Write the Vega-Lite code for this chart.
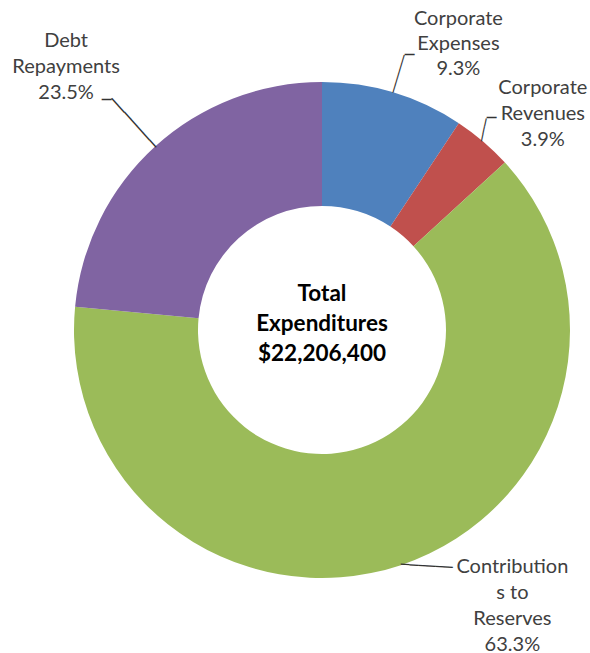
{
  "$schema": "https://vega.github.io/schema/vega-lite/v6.json",
  "width": 536,
  "height": 646,
  "autosize": "none",
  "padding": {"left": 54, "top": 7, "right": 0, "bottom": 0},
  "background": "white",
  "config": {"view": {"stroke": null}},
  "data": {
    "values": [
      {"category": "Corporate Expenses", "label": "Corporate\nExpenses\n9.3%", "value": 9.3, "ord": 1},
      {"category": "Corporate Revenues", "label": "Corporate\nRevenues\n3.9%", "value": 3.9, "ord": 2},
      {"category": "Contributions to Reserves", "label": "Contribution\ns to\nReserves\n63.3%", "value": 63.3, "ord": 3},
      {"category": "Debt Repayments", "label": "Debt\nRepayments\n23.5%", "value": 23.5, "ord": 4}
    ]
  },
  "encoding": {
    "theta": {"field": "value", "type": "quantitative", "stack": true},
    "order": {"field": "ord", "type": "quantitative"},
    "detail": {"field": "category", "type": "nominal"}
  },
  "layer": [
    {
      "mark": {"type": "arc", "innerRadius": 124, "outerRadius": 248},
      "encoding": {
        "color": {
          "field": "category",
          "type": "nominal",
          "scale": {
            "domain": ["Corporate Expenses", "Corporate Revenues", "Contributions to Reserves", "Debt Repayments"],
            "range": ["#4F81BD", "#C0504D", "#9BBB59", "#8064A2"]
          },
          "legend": null
        }
      }
    },
    {
      "mark": {"type": "text", "radius": 300, "dx": 50, "dy": -24, "font": "Lato", "fontSize": 20, "lineBreak": "\n", "lineHeight": 25, "align": "center", "baseline": "middle", "color": "#404040"},
      "encoding": {"text": {"condition": {"test": "datum.category === 'Corporate Expenses'", "field": "label"}, "value": ""}}
    },
    {
      "mark": {"type": "text", "radius": 300, "dx": 26, "dy": -14, "font": "Lato", "fontSize": 20, "lineBreak": "\n", "lineHeight": 26, "align": "center", "baseline": "middle", "color": "#404040"},
      "encoding": {"text": {"condition": {"test": "datum.category === 'Corporate Revenues'", "field": "label"}, "value": ""}}
    },
    {
      "mark": {"type": "text", "radius": 300, "dx": 95, "dy": -47, "font": "Lato", "fontSize": 20, "lineBreak": "\n", "lineHeight": 26, "align": "center", "baseline": "middle", "color": "#404040"},
      "encoding": {"text": {"condition": {"test": "datum.category === 'Contributions to Reserves'", "field": "label"}, "value": ""}}
    },
    {
      "mark": {"type": "text", "radius": 300, "dx": -54, "dy": -67, "font": "Lato", "fontSize": 20, "lineBreak": "\n", "lineHeight": 26, "align": "center", "baseline": "middle", "color": "#404040"},
      "encoding": {"text": {"condition": {"test": "datum.category === 'Debt Repayments'", "field": "label"}, "value": ""}}
    },
    {
      "mark": {"type": "text", "radius": 267.5, "angle": -73.3, "font": "DejaVu Sans Mono", "fontSize": 13, "align": "center", "baseline": "middle", "color": "#333333"},
      "encoding": {"text": {"condition": {"test": "datum.category === 'Corporate Expenses'", "value": "─────"}, "value": ""}}
    },
    {
      "mark": {"type": "text", "radius": 287, "font": "DejaVu Sans Mono", "fontSize": 16, "align": "left", "baseline": "middle", "color": "#333333"},
      "encoding": {"text": {"condition": {"test": "datum.category === 'Corporate Expenses'", "value": "─"}, "value": ""}}
    },
    {
      "mark": {"type": "text", "radius": 258, "angle": -78, "dx": 2.6, "dy": -6, "font": "DejaVu Sans Mono", "fontSize": 13, "align": "center", "baseline": "middle", "color": "#333333"},
      "encoding": {"text": {"condition": {"test": "datum.category === 'Corporate Revenues'", "value": "───"}, "value": ""}}
    },
    {
      "mark": {"type": "text", "radius": 258, "dx": -2.8, "dy": -15.8, "font": "DejaVu Sans Mono", "fontSize": 16, "align": "left", "baseline": "middle", "color": "#333333"},
      "encoding": {"text": {"condition": {"test": "datum.category === 'Corporate Revenues'", "value": "─"}, "value": ""}}
    },
    {
      "mark": {"type": "text", "radius": 280, "angle": 47.7, "font": "DejaVu Sans Mono", "fontSize": 15.6, "align": "center", "baseline": "middle", "color": "#333333"},
      "encoding": {"text": {"condition": {"test": "datum.category === 'Debt Repayments'", "value": "───────"}, "value": ""}}
    },
    {
      "mark": {"type": "text", "radius": 313, "dy": 1.5, "font": "DejaVu Sans Mono", "fontSize": 16, "align": "right", "baseline": "middle", "color": "#333333"},
      "encoding": {"text": {"condition": {"test": "datum.category === 'Debt Repayments'", "value": "─"}, "value": ""}}
    },
    {
      "mark": {"type": "text", "radius": 248, "angle": 3.5, "font": "DejaVu Sans Mono", "fontSize": 14.4, "align": "left", "baseline": "middle", "color": "#333333"},
      "encoding": {"text": {"condition": {"test": "datum.category === 'Contributions to Reserves'", "value": "──────"}, "value": ""}}
    },
    {
      "data": {"values": [{"title": "Total\nExpenditures\n$22,206,400", "value": 1}]},
      "mark": {"type": "text", "radius": 0, "dy": -36.5, "font": "Lato", "fontSize": 22.5, "fontWeight": "bold", "lineBreak": "\n", "lineHeight": 30, "align": "center", "baseline": "middle", "color": "#000000"},
      "encoding": {"text": {"field": "title", "type": "nominal"}}
    }
  ]
}
